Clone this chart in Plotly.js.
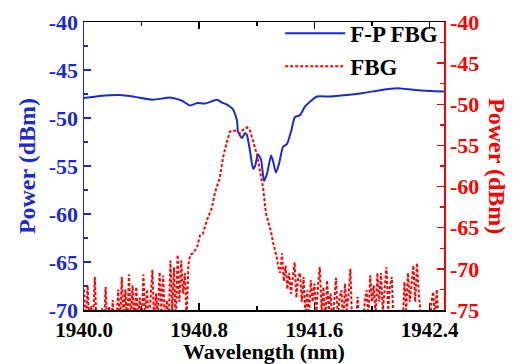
<!DOCTYPE html>
<html>
<head>
<meta charset="utf-8">
<script src="https://cdn.plot.ly/plotly-3.0.1.min.js"></script>
<style>html,body{margin:0;padding:0;background:#fff}#chart{width:513px;height:364px}</style>
</head>
<body>
<div id="chart"></div>
<script>
// F-P FBG transmission (left axis, dBm)
const fpWavelength = [1940.0, 1940.111, 1940.25, 1940.354, 1940.479, 1940.597, 1940.681, 1940.736, 1940.785, 1940.84, 1940.924, 1940.958, 1940.993, 1941.035, 1941.063, 1941.069, 1941.097, 1941.118, 1941.132, 1941.153, 1941.174, 1941.188, 1941.208, 1941.229, 1941.25, 1941.271, 1941.299, 1941.313, 1941.333, 1941.354, 1941.382, 1941.41, 1941.438, 1941.465, 1941.5, 1941.535, 1941.569, 1941.618, 1941.708, 1941.826, 1941.938, 1942.056, 1942.174, 1942.285, 1942.403, 1942.5];
const fpPower = [-47.93, -47.7, -47.6, -47.8, -48.1, -47.86, -48.2, -48.7, -48.45, -48.5, -48.1, -48.4, -48.6, -49.1, -50.3, -51.4, -52.1, -51.55, -51.8, -53.45, -55.3, -55.0, -53.8, -54.3, -56.55, -55.8, -53.9, -54.5, -55.7, -54.8, -53.0, -52.7, -51.4, -49.9, -49.7, -48.8, -48.3, -47.76, -47.76, -47.6, -47.4, -47.1, -46.9, -47.07, -47.2, -47.25];

// FBG reflection (right axis, dBm)
const fbgWavelength = [
 1940.0, 1940.0125, 1940.025, 1940.0375, 1940.05, 1940.0625, 1940.075, 1940.0875, 1940.1, 1940.1125,
 1940.125, 1940.1375, 1940.15, 1940.1625, 1940.175, 1940.1875, 1940.2, 1940.2125, 1940.225, 1940.2375,
 1940.25, 1940.2625, 1940.275, 1940.2875, 1940.3, 1940.3125, 1940.325, 1940.3375, 1940.35, 1940.3625,
 1940.375, 1940.3875, 1940.4, 1940.4125, 1940.425, 1940.4375, 1940.45, 1940.4625, 1940.475, 1940.4875,
 1940.5, 1940.5125, 1940.525, 1940.5375, 1940.55, 1940.5625, 1940.575, 1940.5875, 1940.6, 1940.6125,
 1940.625, 1940.6375, 1940.65, 1940.6625, 1940.675, 1940.6875, 1940.7, 1940.7125, 1940.725, 1940.7375,
 1940.757, 1940.785, 1940.806, 1940.826, 1940.854, 1940.889, 1940.91, 1940.944, 1940.965, 1940.993,
 1941.014, 1941.049, 1941.083, 1941.111, 1941.132, 1941.153, 1941.174, 1941.201, 1941.222, 1941.243,
 1941.264, 1941.278, 1941.299, 1941.313,
 1941.325, 1941.3375, 1941.35, 1941.3625, 1941.375, 1941.3875, 1941.4, 1941.4125, 1941.425, 1941.4375,
 1941.45, 1941.4625, 1941.475, 1941.4875, 1941.5, 1941.5125, 1941.525, 1941.5375, 1941.55, 1941.5625,
 1941.575, 1941.5875, 1941.6, 1941.6125, 1941.625, 1941.6375, 1941.65, 1941.6625, 1941.675, 1941.6875,
 1941.7, 1941.7125, 1941.725, 1941.7375, 1941.75, 1941.7625, 1941.775, 1941.7875, 1941.8, 1941.8125,
 1941.825, 1941.8375, 1941.85, 1941.8625, 1941.875, 1941.8875, 1941.9, 1941.9125, 1941.925, 1941.9375,
 1941.95, 1941.9625, 1941.975, 1941.9875, 1942.0, 1942.0125, 1942.025, 1942.0375, 1942.05, 1942.0625,
 1942.075, 1942.0875, 1942.1, 1942.1125, 1942.125, 1942.1375, 1942.15, 1942.1625, 1942.175, 1942.1875,
 1942.2, 1942.2125, 1942.225, 1942.2375, 1942.25, 1942.2625, 1942.275, 1942.2875, 1942.3, 1942.3125,
 1942.325, 1942.3375, 1942.35, 1942.3625, 1942.375, 1942.3875, 1942.4, 1942.4125, 1942.425, 1942.4375,
 1942.45, 1942.4625, 1942.475, 1942.4875];
const fbgPower = [
 -72.5, -77, -72.0, -77, -74.5, -77, -71.0, -77, -78, -78,
 -74.8, -78, -72.2, -77, -74.6, -77, -73.8, -78, -77, -72.5,
 -77, -71.0, -76, -72.5, -77, -70.7, -76, -72.0, -77, -72.2,
 -76, -73.5, -77, -70.7, -76, -72.5, -77, -72.8, -70.1, -77,
 -73, -76, -70.4, -75, -70.8, -77, -73.8, -77, -69.0, -75,
 -69.8, -77, -68.3, -74, -69, -73, -70.5, -76, -69.5, -68.3,
 -68.1, -67.4, -65.9, -65.7, -64.1, -62.5, -60.7, -58.9, -56.5, -54.5,
 -53.3, -53.2, -53.5, -53.0, -52.8, -53.2, -54.5, -56.1, -58.1, -60.1,
 -63.3, -64.1, -65.5, -66.8,
 -67.5, -68.5, -69.8, -70.5, -68.1, -71.5, -69.6, -72.5, -70.5, -73,
 -71, -69.2, -73.5, -71, -70.5, -74, -71, -76, -72.6, -76,
 -71.4, -74, -71.8, -76, -72, -69.8, -75, -72.2, -77, -71.4,
 -75, -73, -77, -74, -71.1, -76, -73.5, -72.6, -77, -71.8,
 -75, -73, -70.0, -77, -78, -77, -73.4, -78, -78, -77,
 -74, -72.6, -76, -70.8, -74, -72, -76, -70.5, -74, -70.5,
 -75, -72.5, -69.8, -75, -72, -71, -77, -78, -78, -78,
 -78, -77, -71.6, -75, -70.5, -74, -72, -69.6, -74, -69.3,
 -73, -77, -78, -78, -78, -78, -77, -74, -72.8, -76,
 -72.5, -77, -78, -78];

const xTickVals = [1940.0, 1940.8, 1941.6, 1942.4];
const xTickText = ['1940.0', '1940.8', '1941.6', '1942.4'];
const yTickVals = [-40, -45, -50, -55, -60, -65, -70];
const yTickText = ['-40', '-45', '-50', '-55', '-60', '-65', '-70'];
const y2TickVals = [-40, -45, -50, -55, -60, -65, -70, -75];
const y2TickText = ['-40', '-45', '-50', '-55', '-60', '-65', '-70', '-75'];

const BLUE = '#1c2bd0';
const RED = '#ff0000';
const FONT = '"Liberation Serif", "Times New Roman", serif';

const traces = [
  {x: fpWavelength, y: fpPower, name: 'F-P FBG', type: 'scatter', mode: 'lines',
   line: {color: BLUE, width: 2, shape: 'spline', smoothing: 0.5}, yaxis: 'y'},
  {x: fbgWavelength, y: fbgPower, name: 'FBG', type: 'scatter', mode: 'lines',
   line: {color: RED, width: 2, dash: '3px,2px'}, yaxis: 'y2'}
];

const layout = {
  width: 513, height: 364,
  margin: {l: 84, r: 69, t: 20, b: 54},
  paper_bgcolor: '#fff', plot_bgcolor: '#fff',
  font: {family: FONT, size: 22, color: '#000', weight: 700},
  showlegend: true,
  legend: {x: 0.545, y: 1.035, xanchor: 'left', yanchor: 'top', bgcolor: 'rgba(0,0,0,0)',
           font: {family: FONT, size: 23, color: '#000', weight: 700},
           itemwidth: 60, tracegroupgap: 0},
  xaxis: {
    range: [1940.0, 1942.5], showgrid: false, zeroline: false,
    showline: true, linecolor: '#000', linewidth: 1.5, mirror: 'ticks',
    ticks: 'inside', ticklen: 7, tickwidth: 1.5, tickcolor: '#000',
    tickvals: xTickVals, ticktext: xTickText,
    minor: {ticks: 'inside', ticklen: 4, tickwidth: 1.5, tickcolor: '#000', dtick: 0.4, tick0: 1940},
    tickfont: {family: FONT, size: 21, color: '#000', weight: 700}
  },
  yaxis: {
    range: [-70, -40], showgrid: false, zeroline: false,
    showline: true, linecolor: BLUE, linewidth: 1.5,
    ticks: 'inside', ticklen: 7, tickwidth: 1.5, tickcolor: BLUE,
    tickvals: yTickVals, ticktext: yTickText,
    minor: {ticks: 'inside', ticklen: 4, tickwidth: 1.5, tickcolor: BLUE, dtick: 2.5, tick0: -40},
    tickfont: {family: FONT, size: 22, color: BLUE, weight: 700}
  },
  yaxis2: {
    range: [-75, -40], overlaying: 'y', side: 'right', showgrid: false, zeroline: false,
    showline: true, linecolor: RED, linewidth: 1.5,
    ticks: 'inside', ticklen: 7, tickwidth: 1.5, tickcolor: RED,
    tickvals: y2TickVals, ticktext: y2TickText,
    minor: {ticks: 'inside', ticklen: 4, tickwidth: 1.5, tickcolor: RED, dtick: 2.5, tick0: -40},
    tickfont: {family: FONT, size: 22, color: RED, weight: 700}
  },
  annotations: [
    {text: 'Wavelength (nm)', xref: 'paper', yref: 'paper', x: 0.5, y: -0.143,
     xanchor: 'center', yanchor: 'middle', showarrow: false,
     font: {family: FONT, size: 22, color: '#000', weight: 700}},
    {text: 'Power (dBm)', xref: 'paper', yref: 'paper', x: -0.158, y: 0.5,
     xanchor: 'center', yanchor: 'middle', textangle: -90, showarrow: false,
     font: {family: FONT, size: 24, color: BLUE, weight: 700}},
    {text: 'Power (dBm)', xref: 'paper', yref: 'paper', x: 1.147, y: 0.5,
     xanchor: 'center', yanchor: 'middle', textangle: 90, showarrow: false,
     font: {family: FONT, size: 24, color: RED, weight: 700}}
  ]
};

Plotly.newPlot('chart', traces, layout, {staticPlot: true, displayModeBar: false});
</script>
</body>
</html>
